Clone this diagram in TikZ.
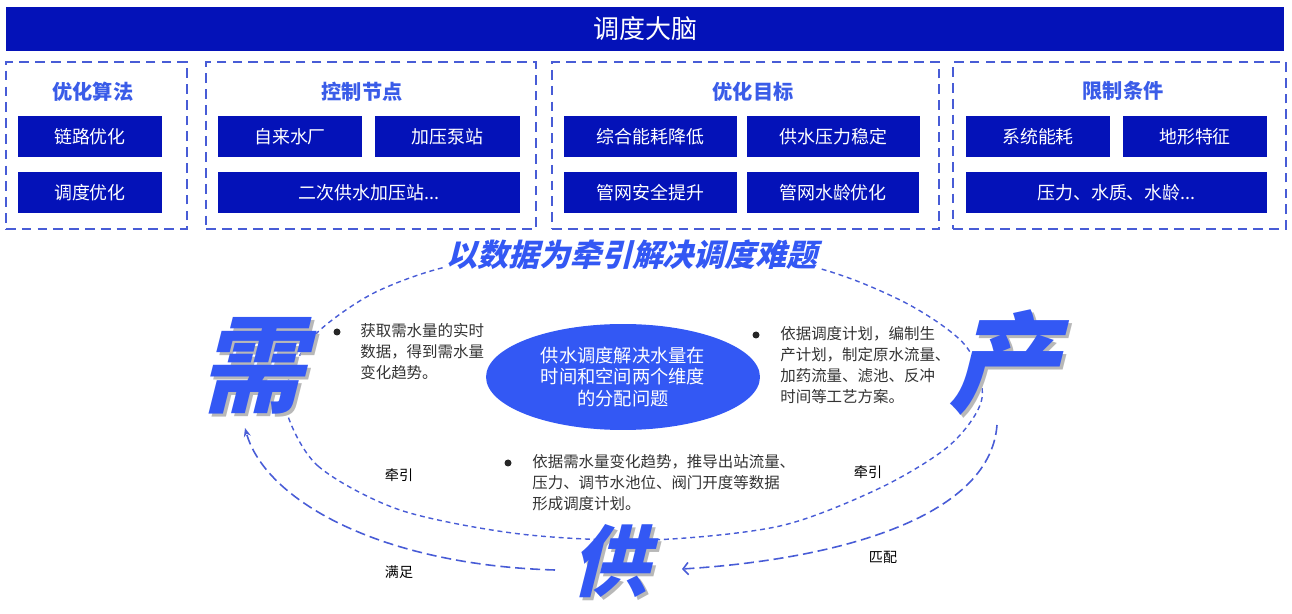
\documentclass[tikz,border=0pt]{standalone}
\usepackage{fontspec}
\setmainfont{Noto Sans CJK SC}
\newfontfamily\xiefont[FakeSlant=0.25]{Noto Sans CJK SC}
\usetikzlibrary{shapes.geometric,arrows.meta}
\definecolor{shenlan}{RGB}{4,18,184}
\definecolor{xulan}{RGB}{72,92,214}
\definecolor{zilan}{RGB}{58,92,232}
\definecolor{lanse}{RGB}{51,88,244}
\definecolor{wenzi}{RGB}{51,51,51}
% big character with a grey shadow, in one box
\newcommand{\yingzizi}[1]{\rlap{\kern0.06cm\raisebox{-0.06cm}{\color{black!28}#1}}#1}
\begin{document}
\begin{tikzpicture}[x=0.02cm,y=-0.02cm,
    kuai/.style={fill=shenlan,text=white,minimum height=0.82cm,inner sep=0pt,font=\fontsize{10.2}{12}\selectfont},
    mianban/.style={draw=xulan,line width=1.1pt,dash pattern=on 5.5pt off 3.5pt,minimum height=3.34cm},
    biaotou/.style={text=zilan,font=\fontsize{11.5}{13}\selectfont\bfseries},
    shuoming/.style={text=wenzi,align=left,anchor=north west,inner sep=0pt,font=\fontsize{8.8}{12}\selectfont},
    dian/.style={circle,fill=black!85,inner sep=0pt,minimum size=0.14cm},
    dazi/.style={text=lanse,inner sep=0pt,font=\xiefont\bfseries\fontsize{#1}{#1}\selectfont},
    dazi/.default=58,
    biaoqian/.style={text=black,font=\fontsize{8}{10}\selectfont},
    huanxian/.style={xulan,line width=0.8pt,dash pattern=on 2.8pt off 2.2pt},
    huxian/.style={xulan,line width=0.9pt,dash pattern=on 5.7pt off 2.8pt}]
    \useasboundingbox (0,0) rectangle (1292,614);
    %% top bar
    \node[kuai,minimum width=25.56cm,minimum height=0.88cm,font=\fontsize{14.8}{16}\selectfont] (nao) at (645,29) {调度大脑};
    %% panels
    \node[mianban,minimum width=3.62cm] (suanfa) at (96.5,145.5) {};
    \node[mianban,minimum width=6.6cm] (jiedian) at (371,145.5) {};
    \node[mianban,minimum width=7.74cm] (mubiao) at (745.5,145.5) {};
    \node[mianban,minimum width=6.66cm] (tiaojian) at (1119.5,145.5) {};
    \node[biaotou] (suanfa-t) at (93,92) {优化算法};
    \node[biaotou] (jiedian-t) at (362,92) {控制节点};
    \node[biaotou] (mubiao-t) at (753,92) {优化目标};
    \node[biaotou] (tiaojian-t) at (1123,91) {限制条件};
    %% blocks
    \node[kuai,minimum width=2.88cm] (lianlu) at (90,136.5) {链路优化};
    \node[kuai,minimum width=2.88cm] (diaodu) at (90,192.5) {调度优化};
    \node[kuai,minimum width=2.88cm] (shuichang) at (290,136.5) {自来水厂};
    \node[kuai,minimum width=2.9cm] (bengzhan) at (447.5,136.5) {加压泵站};
    \node[kuai,minimum width=6.04cm] (erci) at (369,192.5) {二次供水加压站...};
    \node[kuai,minimum width=3.46cm] (nenghao) at (650.5,136.5) {综合能耗降低};
    \node[kuai,minimum width=3.46cm] (yali) at (833.5,136.5) {供水压力稳定};
    \node[kuai,minimum width=3.46cm] (anquan) at (650.5,192.5) {管网安全提升};
    \node[kuai,minimum width=3.46cm] (shuiling) at (833,192.5) {管网水龄优化};
    \node[kuai,minimum width=2.88cm] (xitong) at (1038,136.5) {系统能耗};
    \node[kuai,minimum width=2.88cm] (dixing) at (1195,136.5) {地形特征};
    \node[kuai,minimum width=6.02cm] (shuizhi) at (1116.5,192.5) {压力、水质、水龄...};
    %% loop
    \draw[huanxian] plot[smooth cycle] coordinates {(286,410) (318,466) (400,510) (520,534) (650,540) (780,526) (880,488) (950,445) (982,398) (965,345) (900,300) (800,264) (634,250) (470,262) (380,290) (320,330) (292,370)};
    \node[fill=white,inner sep=1pt,text=lanse,font=\xiefont\bfseries\fontsize{17.6}{20}\selectfont] (zhuti) at (632,255) {以数据为牵引解决调度难题};
    \node[ellipse,fill=lanse,text=white,align=center,minimum width=5.48cm,minimum height=2.12cm,inner sep=0pt,font=\fontsize{10.4}{12}\selectfont] (wenti) at (623,377) {供水调度解决水量在\\时间和空间两个维度\\的分配问题};
    %% notes
    \node[dian] (dian-xu) at (337,332) {};
    \node[shuoming] (xu-txt) at (360,323) {获取需水量的实时\\数据，得到需水量\\变化趋势。};
    \node[dian] (dian-chan) at (756,335) {};
    \node[shuoming] (chan-txt) at (780,326) {依据调度计划，编制生\\产计划，制定原水流量、\\加药流量、滤池、反冲\\时间等工艺方案。};
    \node[dian] (dian-gong) at (508,463) {};
    \node[shuoming] (gong-txt) at (532,454) {依据需水量变化趋势，推导出站流量、\\压力、调节水池位、阀门开度等数据\\形成调度计划。};
    %% big characters
    \node[dazi=60] (xu) at (251,367) {\yingzizi{需}};
    \node[dazi=62] (chan) at (1003,364) {\yingzizi{产}};
    \node[dazi=44] (gong) at (610,563) {\yingzizi{供}};
    %% arrows
    \coordinate (manzu-qi) at (555,570);
    \coordinate (manzu-zhi) at (245,428);
    \draw[huxian,-{Stealth[length=5pt,width=4pt]}] (manzu-qi) .. controls (380,565) and (265,500) .. (manzu-zhi);
    \coordinate (pipei-qi) at (997,425);
    \coordinate (pipei-zhi) at (682,569);
    \draw[huxian,-{Straight Barb[length=3pt,width=7pt]}] (pipei-qi) .. controls (990,520) and (830,560) .. (pipei-zhi);
    \node[biaoqian] (qianyin-zuo) at (399,475) {牵引};
    \node[biaoqian] (manzu) at (399,572) {满足};
    \node[biaoqian] (qianyin-you) at (868,472) {牵引};
    \node[biaoqian] (pipei) at (883,557) {匹配};
\end{tikzpicture}
\end{document}
